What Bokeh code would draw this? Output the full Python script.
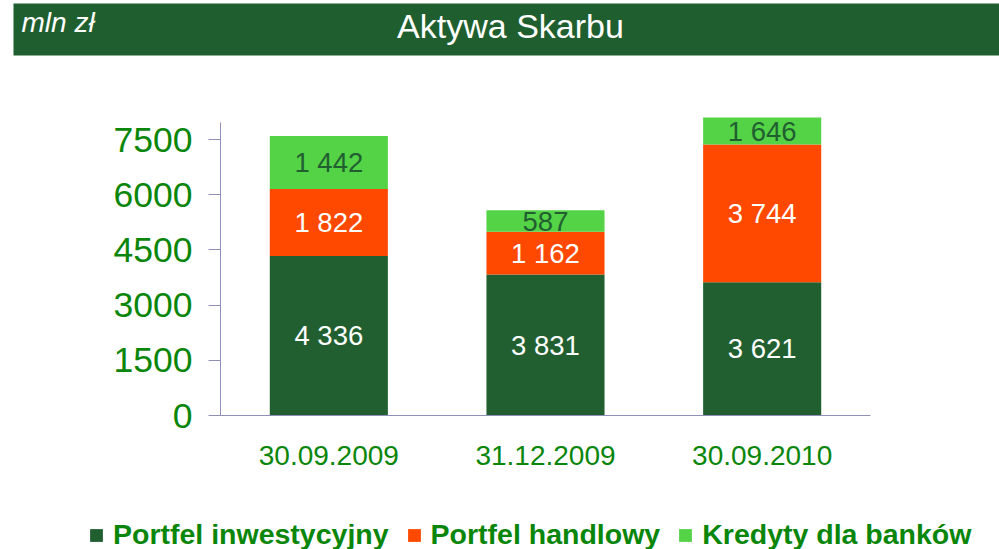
from bokeh.plotting import figure
from bokeh.models import (ColumnDataSource, Range1d, FixedTicker, Legend, LegendItem,
                          Label, BoxAnnotation)
from bokeh.embed import file_html
from bokeh.resources import INLINE
from bokeh.core.properties import value

# ---- data ----
dates = ["30.09.2009", "31.12.2009", "30.09.2010"]
portfel_inwestycyjny = [4336, 3831, 3621]
portfel_handlowy = [1822, 1162, 3744]
kredyty_dla_bankow = [1442, 587, 1646]
series_names = ["Portfel inwestycyjny", "Portfel handlowy", "Kredyty dla banków"]
y_ticks = [0, 1500, 3000, 4500, 6000, 7500]
title_text = "Aktywa Skarbu"
unit_text = "mln zł"

# ---- style / layout (pixels) ----
FONT = "Liberation Sans"
HDR = "#1f5e2f"
DARK = "#215f31"
ORANGE = "#ff4900"
LIGHT = "#54d346"
TXT_GREEN = "#0a860a"
AXIS = "#8f8fb8"
colors = [DARK, ORANGE, LIGHT]
label_colors = ["white", "white", DARK]

W, H = 999, 549
FRAME_L, FRAME_R = 220, 870      # plot area left/right (px)
AXIS_Y, TOP_Y = 415, 117         # px of value 0 and of the plot-area top
Y_MAX = 8100                     # value at plot-area top
AXIS_TOP_VALUE = 7965            # where the value axis line ends

n = len(dates)
x_unit = (FRAME_R - FRAME_L) / n
y_unit = (AXIS_Y - TOP_Y) / Y_MAX
x_range = Range1d(-FRAME_L / x_unit, (W - FRAME_L) / x_unit)
y_range = Range1d(-(H - AXIS_Y) / y_unit, AXIS_Y / y_unit)


def fmt(v):
    return f"{v:,}".replace(",", " ")


p = figure(width=W, height=H, x_range=x_range, y_range=y_range,
           output_backend="svg", toolbar_location=None, min_border=0,
           outline_line_color=None)
p.xgrid.visible = False
p.ygrid.visible = False

# ---- header ----
p.add_layout(BoxAnnotation(left=13, right=W, bottom=H - 55, top=H - 3,
                           left_units="screen", right_units="screen",
                           bottom_units="screen", top_units="screen",
                           fill_color=HDR, fill_alpha=1.0, line_color=None))
p.add_layout(Label(x=510, y=H - 25, x_units="screen", y_units="screen",
                   text=title_text, text_align="center", text_baseline="alphabetic",
                   text_color="white", text_font=FONT, text_font_size="34px"))
p.add_layout(Label(x=21, y=H - 22, x_units="screen", y_units="screen",
                   text=unit_text, text_align="left", text_baseline="alphabetic",
                   text_color="white", text_font=FONT, text_font_size="28px",
                   text_font_style="italic"))

# ---- stacked bars ----
xpos = [i + 0.5 for i in range(n)]
series = [portfel_inwestycyjny, portfel_handlowy, kredyty_dla_bankow]
renderers = []
lx, ly, lt, lc = [], [], [], []
bottoms = [0] * n
for s, vals in enumerate(series):
    tops = [b + v for b, v in zip(bottoms, vals)]
    vis_tops = [min(t, Y_MAX) for t in tops]
    src = ColumnDataSource(dict(x=xpos, bottom=bottoms, top=vis_tops))
    r = p.vbar(x="x", bottom="bottom", top="top", width=0.545, source=src,
               fill_color=colors[s], line_color=None)
    renderers.append(r)
    for i in range(n):
        lx.append(xpos[i])
        ly.append((bottoms[i] + vis_tops[i]) / 2)
        lt.append(fmt(vals[i]))
        lc.append(label_colors[s])
    bottoms = tops

lsrc = ColumnDataSource(dict(x=lx, y=ly, t=lt, c=lc))
p.text(x="x", y="y", text="t", text_color="c", source=lsrc, text_align="center",
       text_baseline="middle", text_font=value(FONT), text_font_size="27.5px")

# ---- axes (drawn at the plot area's edges) ----
ya = p.yaxis[0]
ya.fixed_location = 0
ya.bounds = (0, AXIS_TOP_VALUE)
ya.ticker = FixedTicker(ticks=y_ticks)
ya.major_label_text_font = FONT
ya.major_label_text_font_size = "35.5px"
ya.major_label_text_color = TXT_GREEN
ya.major_tick_out = 12
ya.major_tick_in = 0
ya.minor_tick_out = 0
ya.minor_tick_in = 0
ya.major_label_standoff = 16
ya.axis_line_color = AXIS
ya.major_tick_line_color = AXIS

xa = p.xaxis[0]
xa.fixed_location = 0
xa.bounds = (0, n)
xa.ticker = FixedTicker(ticks=xpos)
xa.major_label_overrides = {x: d for x, d in zip(xpos, dates)}
xa.major_tick_out = 0
xa.major_tick_in = 0
xa.minor_tick_out = 0
xa.minor_tick_in = 0
xa.major_label_standoff = 30
xa.major_label_text_font = FONT
xa.major_label_text_font_size = "28px"
xa.major_label_text_color = TXT_GREEN
xa.axis_line_color = AXIS

# ---- legend ----
legend = Legend(items=[LegendItem(label=nm, renderers=[r]) for nm, r in zip(series_names, renderers)],
                orientation="horizontal", location=(88, -2),
                glyph_width=16, glyph_height=16, label_standoff=9, spacing=17,
                padding=0, margin=0, border_line_color=None, background_fill_alpha=0,
                label_text_font=FONT, label_text_font_size="28.5px",
                label_text_font_style="bold", label_text_color=TXT_GREEN)
p.add_layout(legend)

open("out.html", "w").write(file_html(p, INLINE))
